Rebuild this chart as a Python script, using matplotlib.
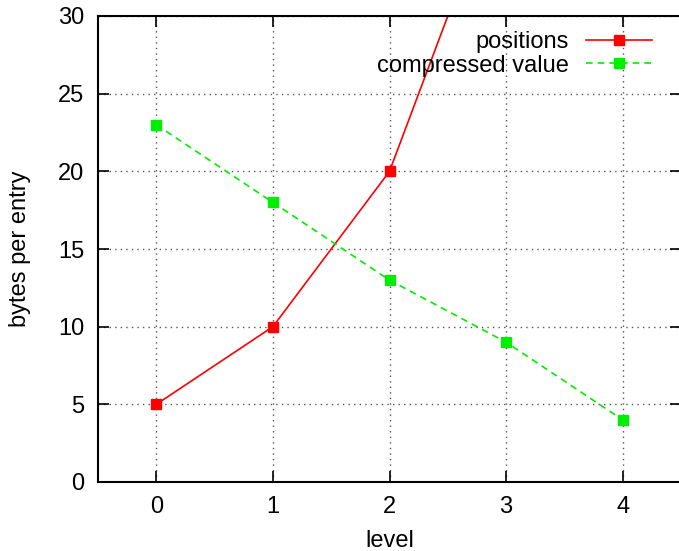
import matplotlib
matplotlib.use("Agg")
import matplotlib.pyplot as plt

levels = [0, 1, 2, 3]
positions = [5, 10, 20, 40]
levels_cv = [0, 1, 2, 3, 4]
compressed_value = [23, 18, 13, 9, 4]
xticks = [0, 1, 2, 3, 4]
yticks = [0, 5, 10, 15, 20, 25, 30]

plt.rcParams['font.family'] = ['Liberation Sans', 'DejaVu Sans']
fig = plt.figure(figsize=(6.79, 5.51), dpi=100)
ax = fig.add_axes([98/679, 1-482/551, (681-98)/679, (482-16)/551])

ax.plot(levels, positions, color='#ff0000', lw=1.2, marker='s', ms=7,
        label='positions')
ax.plot(levels_cv, compressed_value, color='#00ee00', lw=1.2, ls=(0, (4, 3)),
        marker='s', ms=7, label='compressed value')

ax.set_xlim(-0.5, 4.5)
ax.set_ylim(0, 30)
ax.set_xticks(xticks)
ax.set_yticks(yticks)
ax.tick_params(direction='in', length=8, width=1.2, labelsize=17,
               top=True, right=True, pad=10)
ax.grid(True, color='#555555', ls=(0, (1, 3)), lw=1)
for s in ax.spines.values():
    s.set_linewidth(1.5)
ax.set_xlabel('level', fontsize=17, labelpad=9)
ax.set_ylabel('bytes per entry', fontsize=17, labelpad=19)

leg = ax.legend(loc='upper right', frameon=False, fontsize=17, markerfirst=False,
                handlelength=2.8, handletextpad=0.7, borderaxespad=0, borderpad=0,
                labelspacing=0.05, bbox_to_anchor=(0.950, 0.967))
for t in leg.get_texts():
    t.set_ha('right')

fig.savefig('out.png', dpi=100)
